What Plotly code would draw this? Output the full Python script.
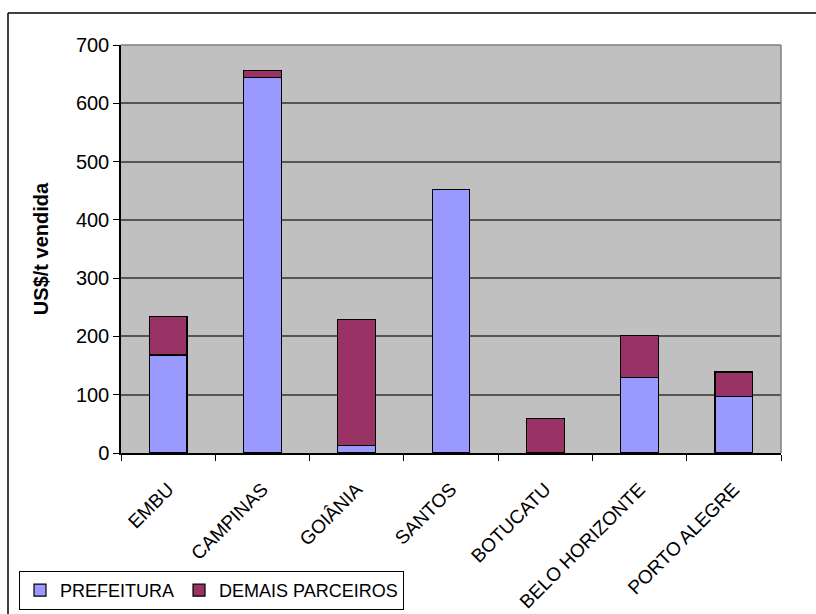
import plotly.graph_objects as go

categories = ["EMBU", "CAMPINAS", "GOIÂNIA", "SANTOS", "BOTUCATU", "BELO HORIZONTE", "PORTO ALEGRE"]
prefeitura = [168, 644, 13, 452, 0, 130, 97]
demais_total = [234, 656, 229, 452, 59, 201, 139]
demais = [t - p for t, p in zip(demais_total, prefeitura)]
y_ticks = [0, 100, 200, 300, 400, 500, 600, 700]

W, H = 816, 614
L, R, T, B = 121, 781, 45, 453

FONT = "Liberation Sans, Arial, sans-serif"

fig = go.Figure()
fig.add_trace(go.Bar(
    x=categories, y=prefeitura, name="PREFEITURA",
    marker=dict(color="#9999FF", line=dict(color="#000000", width=1.2)),
))
fig.add_trace(go.Bar(
    x=categories, y=demais, name="DEMAIS PARCEIROS",
    marker=dict(color="#993366", line=dict(color="#000000", width=1.2)),
))

def px_x(px):
    return (px - L) / (R - L)

def px_y(py):
    return (B - py) / (B - T)

shapes = [
    dict(type="line", xref="paper", yref="paper", x0=px_x(8), x1=px_x(8), y0=px_y(13), y1=px_y(620),
         line=dict(color="#000000", width=1.5)),
    dict(type="line", xref="paper", yref="paper", x0=px_x(8), x1=px_x(820), y0=px_y(13), y1=px_y(13),
         line=dict(color="#000000", width=1.5)),
    dict(type="line", xref="paper", yref="paper", x0=0, x1=1, y0=1, y1=1,
         line=dict(color="#808080", width=1.5)),
    dict(type="line", xref="paper", yref="paper", x0=1, x1=1, y0=0, y1=1,
         line=dict(color="#808080", width=1.5)),
]

fig.update_layout(
    width=W, height=H,
    margin=dict(l=L, r=W - R, t=T, b=H - B, autoexpand=False),
    barmode="stack",
    bargap=0.6,
    paper_bgcolor="#FFFFFF",
    plot_bgcolor="#C0C0C0",
    font=dict(family=FONT, size=19, color="#000000"),
    showlegend=True,
    legend=dict(
        orientation="h",
        xref="container", yref="container",
        x=19 / W, y=1 - 571 / H, xanchor="left", yanchor="top",
        bordercolor="#000000", borderwidth=1,
        bgcolor="#FFFFFF",
        font=dict(family=FONT, size=18, color="#000000"),
        traceorder="normal",
        itemwidth=30,
        tracegroupgap=0,
    ),
    shapes=shapes,
    xaxis=dict(
        type="category",
        automargin=False,
        tickangle=-45,
        ticks="outside", ticklen=6, tickcolor="#000000", tickwidth=1,
        tickson="boundaries",
        ticklabelstandoff=16,
        showline=True, linecolor="#000000", linewidth=1.5,
        showgrid=False,
        tickfont=dict(family=FONT, size=19, color="#000000"),
    ),
    yaxis=dict(
        automargin=False,
        range=[0, 700],
        tickvals=y_ticks,
        ticks="outside", ticklen=6, tickcolor="#000000", tickwidth=1,
        showline=True, linecolor="#000000", linewidth=1.5,
        showgrid=True, gridcolor="#555555", gridwidth=1.5,
        zeroline=False,
        tickfont=dict(family=FONT, size=20, color="#000000"),
        title=dict(text="<b>US$/t vendida</b>", font=dict(family=FONT, size=20, color="#000000"), standoff=22),
    ),
)

fig.write_html("out.html")
